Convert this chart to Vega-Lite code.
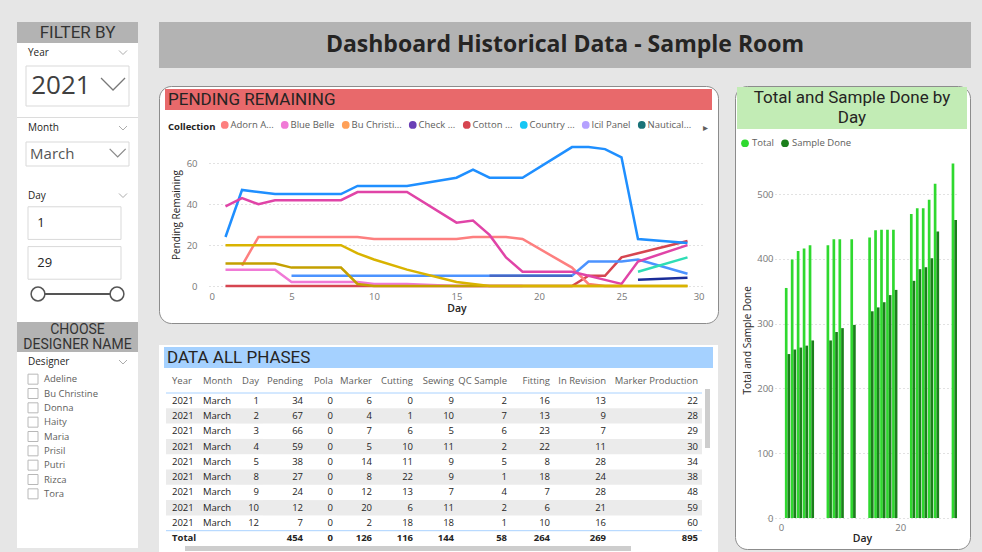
{
"$schema":"https://vega.github.io/schema/vega-lite/v6.json",
"background":"#e6e6e6",
"padding":{"left":17,"top":22,"right":12,"bottom":2},
"config":{"font":"Open Sans","view":{"stroke":null},"title":{"fontSize":9.5,"fontWeight":"normal","color":"#605E5C","offset":-13},"text":{"color":"#252423"}},
"data":{"values":[{}]},
"datasets":{
"lines":[
{"c":"Cotton ...","d":1,"v":0},{"c":"Cotton ...","d":2,"v":0},{"c":"Cotton ...","d":3,"v":0},{"c":"Cotton ...","d":4,"v":0},{"c":"Cotton ...","d":5,"v":0},{"c":"Cotton ...","d":8,"v":0},{"c":"Cotton ...","d":9,"v":0},{"c":"Cotton ...","d":10,"v":0},{"c":"Cotton ...","d":12,"v":0},{"c":"Cotton ...","d":15,"v":0},{"c":"Cotton ...","d":16,"v":0},{"c":"Cotton ...","d":17,"v":0},{"c":"Cotton ...","d":18,"v":0},{"c":"Cotton ...","d":19,"v":0},{"c":"Cotton ...","d":22,"v":0},{"c":"Cotton ...","d":23,"v":5},{"c":"Cotton ...","d":24,"v":5},{"c":"Cotton ...","d":25,"v":14},{"c":"Cotton ...","d":26,"v":16},{"c":"Cotton ...","d":29,"v":22},
{"c":"Blue Belle","d":1,"v":8},{"c":"Blue Belle","d":2,"v":8},{"c":"Blue Belle","d":3,"v":8},{"c":"Blue Belle","d":4,"v":8},{"c":"Blue Belle","d":5,"v":2},{"c":"Blue Belle","d":8,"v":2},{"c":"Blue Belle","d":9,"v":2},{"c":"Blue Belle","d":10,"v":1},{"c":"Blue Belle","d":12,"v":1},{"c":"Blue Belle","d":15,"v":0},{"c":"Blue Belle","d":16,"v":0},{"c":"Blue Belle","d":17,"v":0},{"c":"Blue Belle","d":18,"v":0},{"c":"Blue Belle","d":19,"v":0},
{"c":"Adorn A...","d":2,"v":10},{"c":"Adorn A...","d":3,"v":24},{"c":"Adorn A...","d":4,"v":24},{"c":"Adorn A...","d":5,"v":24},{"c":"Adorn A...","d":8,"v":24},{"c":"Adorn A...","d":9,"v":24},{"c":"Adorn A...","d":10,"v":23},{"c":"Adorn A...","d":12,"v":23},{"c":"Adorn A...","d":15,"v":23},{"c":"Adorn A...","d":16,"v":24},{"c":"Adorn A...","d":17,"v":24},{"c":"Adorn A...","d":18,"v":24},{"c":"Adorn A...","d":19,"v":23},{"c":"Adorn A...","d":22,"v":9},{"c":"Adorn A...","d":23,"v":1},{"c":"Adorn A...","d":24,"v":0},{"c":"Adorn A...","d":25,"v":0},
{"c":"Other 1","d":5,"v":5},{"c":"Other 1","d":8,"v":5},{"c":"Other 1","d":9,"v":5},{"c":"Other 1","d":10,"v":5},{"c":"Other 1","d":12,"v":5},{"c":"Other 1","d":15,"v":5},{"c":"Other 1","d":16,"v":5},{"c":"Other 1","d":17,"v":5},{"c":"Other 1","d":18,"v":5},{"c":"Other 1","d":19,"v":5},{"c":"Other 1","d":22,"v":5},{"c":"Other 1","d":23,"v":12},{"c":"Other 1","d":24,"v":12},{"c":"Other 1","d":25,"v":12},{"c":"Other 1","d":26,"v":13},{"c":"Other 1","d":29,"v":6},
{"c":"Other 2","d":17,"v":5},{"c":"Other 2","d":18,"v":5},{"c":"Other 2","d":19,"v":5},{"c":"Other 2","d":22,"v":5},
{"c":"Other 3","d":1,"v":24},{"c":"Other 3","d":2,"v":47},{"c":"Other 3","d":3,"v":46},{"c":"Other 3","d":4,"v":45},{"c":"Other 3","d":5,"v":45},{"c":"Other 3","d":8,"v":45},{"c":"Other 3","d":9,"v":49},{"c":"Other 3","d":10,"v":49},{"c":"Other 3","d":12,"v":49},{"c":"Other 3","d":15,"v":53},{"c":"Other 3","d":16,"v":57},{"c":"Other 3","d":17,"v":53},{"c":"Other 3","d":18,"v":53},{"c":"Other 3","d":19,"v":53},{"c":"Other 3","d":22,"v":68},{"c":"Other 3","d":23,"v":68},{"c":"Other 3","d":24,"v":67},{"c":"Other 3","d":25,"v":63},{"c":"Other 3","d":26,"v":23},{"c":"Other 3","d":29,"v":21},
{"c":"Other 4","d":1,"v":39},{"c":"Other 4","d":2,"v":43},{"c":"Other 4","d":3,"v":40},{"c":"Other 4","d":4,"v":42},{"c":"Other 4","d":5,"v":42},{"c":"Other 4","d":8,"v":42},{"c":"Other 4","d":9,"v":46},{"c":"Other 4","d":10,"v":46},{"c":"Other 4","d":12,"v":46},{"c":"Other 4","d":15,"v":31},{"c":"Other 4","d":16,"v":32},{"c":"Other 4","d":17,"v":25},{"c":"Other 4","d":18,"v":14},{"c":"Other 4","d":19,"v":7},{"c":"Other 4","d":22,"v":7},{"c":"Other 4","d":23,"v":5},{"c":"Other 4","d":24,"v":3},{"c":"Other 4","d":25,"v":1},{"c":"Other 4","d":26,"v":12},{"c":"Other 4","d":29,"v":20},
{"c":"Other 5","d":26,"v":7},{"c":"Other 5","d":29,"v":14},
{"c":"Other 6","d":26,"v":3},{"c":"Other 6","d":29,"v":4},
{"c":"Other 7","d":1,"v":11},{"c":"Other 7","d":2,"v":11},{"c":"Other 7","d":3,"v":11},{"c":"Other 7","d":4,"v":11},{"c":"Other 7","d":5,"v":9},{"c":"Other 7","d":8,"v":9},{"c":"Other 7","d":9,"v":1},{"c":"Other 7","d":10,"v":0},{"c":"Other 7","d":12,"v":0},{"c":"Other 7","d":15,"v":0},{"c":"Other 7","d":16,"v":0},{"c":"Other 7","d":17,"v":0},{"c":"Other 7","d":18,"v":0},{"c":"Other 7","d":19,"v":0},{"c":"Other 7","d":22,"v":0},{"c":"Other 7","d":23,"v":0},{"c":"Other 7","d":24,"v":0},{"c":"Other 7","d":25,"v":0},{"c":"Other 7","d":26,"v":0},{"c":"Other 7","d":29,"v":0},
{"c":"Other 8","d":1,"v":20},{"c":"Other 8","d":2,"v":20},{"c":"Other 8","d":3,"v":20},{"c":"Other 8","d":4,"v":20},{"c":"Other 8","d":5,"v":20},{"c":"Other 8","d":8,"v":20},{"c":"Other 8","d":9,"v":16},{"c":"Other 8","d":10,"v":13},{"c":"Other 8","d":12,"v":8},{"c":"Other 8","d":15,"v":2},{"c":"Other 8","d":16,"v":1},{"c":"Other 8","d":17,"v":0},{"c":"Other 8","d":18,"v":0},{"c":"Other 8","d":19,"v":0},{"c":"Other 8","d":22,"v":0},{"c":"Other 8","d":23,"v":0},{"c":"Other 8","d":24,"v":0},{"c":"Other 8","d":25,"v":0},{"c":"Other 8","d":26,"v":0},{"c":"Other 8","d":29,"v":0}
],
"bars":[
{"d":1,"s":"Total","v":355},{"d":1,"s":"Sample Done","v":253},{"d":2,"s":"Total","v":399},{"d":2,"s":"Sample Done","v":260},{"d":3,"s":"Total","v":412},{"d":3,"s":"Sample Done","v":263},{"d":4,"s":"Total","v":416},{"d":4,"s":"Sample Done","v":266},{"d":5,"s":"Total","v":421},{"d":5,"s":"Sample Done","v":274},{"d":8,"s":"Total","v":421},{"d":8,"s":"Sample Done","v":274},{"d":9,"s":"Total","v":430},{"d":9,"s":"Sample Done","v":287},{"d":10,"s":"Total","v":430},{"d":10,"s":"Sample Done","v":293},{"d":12,"s":"Total","v":430},{"d":12,"s":"Sample Done","v":298},{"d":15,"s":"Total","v":433},{"d":15,"s":"Sample Done","v":319},{"d":16,"s":"Total","v":444},{"d":16,"s":"Sample Done","v":325},{"d":17,"s":"Total","v":445},{"d":17,"s":"Sample Done","v":333},{"d":18,"s":"Total","v":445},{"d":18,"s":"Sample Done","v":344},{"d":19,"s":"Total","v":445},{"d":19,"s":"Sample Done","v":352},{"d":22,"s":"Total","v":469},{"d":22,"s":"Sample Done","v":366},{"d":23,"s":"Total","v":478},{"d":23,"s":"Sample Done","v":384},{"d":24,"s":"Total","v":478},{"d":24,"s":"Sample Done","v":387},{"d":25,"s":"Total","v":491},{"d":25,"s":"Sample Done","v":401},{"d":26,"s":"Total","v":516},{"d":26,"s":"Sample Done","v":442},{"d":29,"s":"Total","v":547},{"d":29,"s":"Sample Done","v":460}
],
"table":[
{"r":"1","Year":"2021","Month":"March","Day":1,"Pending":34,"Pola":0,"Marker":6,"Cutting":0,"Sewing":9,"QC Sample":2,"Fitting":16,"In Revision":13,"Marker Production":22},
{"r":"2","Year":"2021","Month":"March","Day":2,"Pending":67,"Pola":0,"Marker":4,"Cutting":1,"Sewing":10,"QC Sample":7,"Fitting":13,"In Revision":9,"Marker Production":28},
{"r":"3","Year":"2021","Month":"March","Day":3,"Pending":66,"Pola":0,"Marker":7,"Cutting":6,"Sewing":5,"QC Sample":6,"Fitting":23,"In Revision":7,"Marker Production":29},
{"r":"4","Year":"2021","Month":"March","Day":4,"Pending":59,"Pola":0,"Marker":5,"Cutting":10,"Sewing":11,"QC Sample":2,"Fitting":22,"In Revision":11,"Marker Production":30},
{"r":"5","Year":"2021","Month":"March","Day":5,"Pending":38,"Pola":0,"Marker":14,"Cutting":11,"Sewing":9,"QC Sample":5,"Fitting":8,"In Revision":28,"Marker Production":34},
{"r":"6","Year":"2021","Month":"March","Day":8,"Pending":27,"Pola":0,"Marker":8,"Cutting":22,"Sewing":9,"QC Sample":1,"Fitting":18,"In Revision":24,"Marker Production":38},
{"r":"7","Year":"2021","Month":"March","Day":9,"Pending":24,"Pola":0,"Marker":12,"Cutting":13,"Sewing":7,"QC Sample":4,"Fitting":7,"In Revision":28,"Marker Production":48},
{"r":"8","Year":"2021","Month":"March","Day":10,"Pending":12,"Pola":0,"Marker":20,"Cutting":6,"Sewing":11,"QC Sample":2,"Fitting":6,"In Revision":21,"Marker Production":59},
{"r":"9","Year":"2021","Month":"March","Day":12,"Pending":7,"Pola":0,"Marker":2,"Cutting":18,"Sewing":18,"QC Sample":1,"Fitting":10,"In Revision":16,"Marker Production":60},
{"r":"Total","Year":"Total","Month":"","Day":"","Pending":454,"Pola":0,"Marker":126,"Cutting":116,"Sewing":144,"QC Sample":58,"Fitting":264,"In Revision":269,"Marker Production":895}
],
"designers":[{"name":"Adeline"},{"name":"Bu Christine"},{"name":"Donna"},{"name":"Haity"},{"name":"Maria"},{"name":"Prisil"},{"name":"Putri"},{"name":"Rizca"},{"name":"Tora"}],
"slicer":[{"v":"1"},{"v":"29"}],
"dayrange":[{"d":1},{"d":29}],
"seps":[{"k":"1"},{"k":"Total"}]
},
"resolve":{"scale":{"color":"independent"}},
"hconcat":[
{"vconcat":[
{"width":121,"height":21,"view":{"fill":"#b3b3b3","stroke":null},"mark":{"type":"text","text":"FILTER BY","font":"Roboto","fontSize":17,"color":"#333333"}},
{"width":121,"height":19,"view":{"fill":"white","stroke":null},"encoding":{"x":{"datum":0,"type":"quantitative","scale":{"domain":[0,1],"range":[11,106]},"axis":null}},"layer":[{"mark":{"type":"text","text":"Year","align":"left","fontSize":10}},{"mark":{"type":"point","shape":"M-1,-0.5L0,0.5L1,-0.5","filled":false,"size":64,"color":"#8a8a8a","strokeWidth":1},"encoding":{"x":{"datum":1,"type":"quantitative"}}}]},
{"width":121,"height":48,"view":{"fill":"white","stroke":null},"encoding":{"x":{"datum":0,"type":"quantitative","scale":{"domain":[0,1],"range":[9,112]},"axis":null},"y":{"datum":0,"type":"quantitative","scale":{"domain":[0,1],"range":[44,4]},"axis":null}},"layer":[
 {"mark":{"type":"rect","fill":"white","stroke":"#d9d9d9","strokeWidth":1},"encoding":{"x2":{"datum":1},"y2":{"datum":1}}},
 {"mark":{"type":"text","text":"2021","align":"left","fontSize":26,"color":"#404040"},"encoding":{"x":{"datum":0.05,"type":"quantitative"},"y":{"datum":0.5,"type":"quantitative"}}},
 {"mark":{"type":"point","shape":"M-1,-0.5L0,0.5L1,-0.5","filled":false,"size":576,"color":"#404040","strokeWidth":1.3},"encoding":{"x":{"datum":0.845,"type":"quantitative"},"y":{"datum":0.55,"type":"quantitative"}}}]},
{"width":121,"height":7,"view":{"fill":"white","stroke":null},"mark":{"type":"text","text":""}},
{"width":121,"height":1,"view":{"fill":"#dcdcdc","stroke":null},"mark":{"type":"text","text":""}},
{"width":121,"height":20,"view":{"fill":"white","stroke":null},"encoding":{"x":{"datum":0,"type":"quantitative","scale":{"domain":[0,1],"range":[11,106]},"axis":null}},"layer":[{"mark":{"type":"text","text":"Month","align":"left","fontSize":10}},{"mark":{"type":"point","shape":"M-1,-0.5L0,0.5L1,-0.5","filled":false,"size":64,"color":"#8a8a8a","strokeWidth":1},"encoding":{"x":{"datum":1,"type":"quantitative"}}}]},
{"width":121,"height":32,"view":{"fill":"white","stroke":null},"encoding":{"x":{"datum":0,"type":"quantitative","scale":{"domain":[0,1],"range":[9,112]},"axis":null},"y":{"datum":0,"type":"quantitative","scale":{"domain":[0,1],"range":[28,4]},"axis":null}},"layer":[
 {"mark":{"type":"rect","fill":"white","stroke":"#d9d9d9","strokeWidth":1},"encoding":{"x2":{"datum":1},"y2":{"datum":1}}},
 {"mark":{"type":"text","text":"March","align":"left","fontSize":15,"color":"#555555"},"encoding":{"x":{"datum":0.04,"type":"quantitative"},"y":{"datum":0.5,"type":"quantitative"}}},
 {"mark":{"type":"point","shape":"M-1,-0.5L0,0.5L1,-0.5","filled":false,"size":256,"color":"#555555","strokeWidth":1.2},"encoding":{"x":{"datum":0.89,"type":"quantitative"},"y":{"datum":0.55,"type":"quantitative"}}}]},
{"width":121,"height":15,"view":{"fill":"white","stroke":null},"mark":{"type":"text","text":""}},
{"width":121,"height":21,"view":{"fill":"white","stroke":null},"encoding":{"x":{"datum":0,"type":"quantitative","scale":{"domain":[0,1],"range":[11,106]},"axis":null}},"layer":[{"mark":{"type":"text","text":"Day","align":"left","fontSize":10}},{"mark":{"type":"point","shape":"M-1,-0.5L0,0.5L1,-0.5","filled":false,"size":64,"color":"#8a8a8a","strokeWidth":1},"encoding":{"x":{"datum":1,"type":"quantitative"}}}]},
{"width":121,"height":74,"view":{"fill":"white","stroke":null},"data":{"name":"slicer"},
 "encoding":{"y":{"field":"v","type":"ordinal","sort":null,"scale":{"type":"band","paddingInner":0.18,"paddingOuter":0.02},"axis":null},"x":{"datum":0,"type":"quantitative","scale":{"domain":[0,1],"range":[11,104]},"axis":null}},
 "layer":[{"mark":{"type":"rect","fill":"white","stroke":"#d9d9d9","strokeWidth":1},"encoding":{"x2":{"datum":1}}},
  {"mark":{"type":"text","align":"left","fontSize":13},"encoding":{"x":{"datum":0.1,"type":"quantitative"},"text":{"field":"v","type":"nominal"}}}]},
{"width":121,"height":4,"view":{"fill":"white","stroke":null},"mark":{"type":"text","text":""}},
{"width":121,"height":20,"view":{"fill":"white","stroke":null},"data":{"name":"dayrange"},"encoding":{"x":{"field":"d","type":"quantitative","scale":{"domain":[1,29],"range":[21,100]},"axis":null}},
 "layer":[{"mark":{"type":"line","color":"#555555","strokeWidth":2},"encoding":{}},{"mark":{"type":"point","filled":true,"fill":"white","stroke":"#555555","strokeWidth":1.5,"size":190,"opacity":1},"encoding":{}}]},
{"width":121,"height":18,"view":{"fill":"white","stroke":null},"mark":{"type":"text","text":""}},
{"width":121,"height":30,"view":{"fill":"#b3b3b3","stroke":null},"mark":{"type":"text","text":["CHOOSE","DESIGNER NAME"],"font":"Roboto","fontSize":14,"lineHeight":15,"dy":-7,"color":"#333333"}},
{"width":121,"height":20,"view":{"fill":"white","stroke":null},"encoding":{"x":{"datum":0,"type":"quantitative","scale":{"domain":[0,1],"range":[11,106]},"axis":null}},"layer":[{"mark":{"type":"text","text":"Designer","align":"left","fontSize":10}},{"mark":{"type":"point","shape":"M-1,-0.5L0,0.5L1,-0.5","filled":false,"size":64,"color":"#8a8a8a","strokeWidth":1},"encoding":{"x":{"datum":1,"type":"quantitative"}}}]},
{"width":121,"height":129,"view":{"fill":"white","stroke":null},"data":{"name":"designers"},
 "encoding":{"y":{"field":"name","type":"nominal","sort":null,"axis":null},"x":{"datum":0,"type":"quantitative","scale":{"domain":[0,1],"range":[16,27]},"axis":null}},
 "layer":[{"mark":{"type":"point","shape":"square","size":100,"filled":true,"fill":"white","stroke":"#b8b8b8","strokeWidth":1,"opacity":1}},
  {"mark":{"type":"text","align":"left","fontSize":9.5,"color":"#605E5C"},"encoding":{"x":{"datum":1,"type":"quantitative"},"text":{"field":"name","type":"nominal"}}}]},
{"width":121,"height":47,"view":{"fill":"white","stroke":null},"mark":{"type":"text","text":""}}
],"spacing":0,"bounds":"flush"},
{"vconcat":[
{"width":812,"height":46,"view":{"fill":"#b3b3b3","stroke":null},"mark":{"type":"text","text":"Dashboard Historical Data - Sample Room","fontSize":23,"fontWeight":"bold","color":"#252423"}},
{"hconcat":[
 {"vconcat":[
  {"width":559,"height":237,"view":{"fill":"white","stroke":"#8c8c8c","strokeWidth":1,"cornerRadius":12},
   "resolve":{"scale":{"x":"independent","y":"independent"}},
   "layer":[
    {"encoding":{"x":{"datum":0,"type":"quantitative","scale":{"domain":[0,1],"range":[6,553]},"axis":null},"y":{"datum":0,"type":"quantitative","scale":{"domain":[0,1],"range":[24,3]},"axis":null}},
     "layer":[{"mark":{"type":"rect","color":"#E8696B"},"encoding":{"x2":{"datum":1},"y2":{"datum":1}}},
      {"mark":{"type":"text","text":"PENDING REMAINING","align":"left","dx":3,"font":"Roboto","fontSize":17,"color":"#252423"},"encoding":{"y":{"datum":0.5,"type":"quantitative"}}}]},
    {"data":{"name":"lines"},"mark":{"type":"line","strokeWidth":2.5},
     "encoding":{
      "x":{"field":"d","type":"quantitative","scale":{"domain":[0,30],"range":[50,545],"nice":false,"zero":false},"axis":{"orient":"bottom","offset":-37,"values":[0,5,10,15,20,25,30],"domain":false,"ticks":false,"grid":false,"labelPadding":5,"labelColor":"#777777","labelFontSize":9.5,"title":"Day","titleFontSize":10.5,"titleFontWeight":600,"titleColor":"#252423","titlePadding":3}},
      "y":{"field":"v","type":"quantitative","scale":{"domain":[0,70],"range":[200,57],"nice":false},"axis":{"orient":"left","offset":-50,"values":[0,20,40,60],"domain":false,"ticks":false,"labelPadding":12,"labelColor":"#777777","labelFontSize":9.5,"grid":true,"gridDash":[1,3],"gridColor":"#c4c4c4","title":"Pending Remaining","titleFontSize":10,"titleFontWeight":"normal","titleColor":"#252423","titlePadding":5}},
      "color":{"field":"c","type":"nominal","scale":{"domain":["Adorn A...","Blue Belle","Bu Christi...","Check ...","Cotton ...","Country ...","Icil Panel","Nautical...","▸","Other 1","Other 2","Other 3","Other 4","Other 5","Other 6","Other 7","Other 8"],"range":["#FD7F7F","#F07AD6","#FFA058","#6A3FB5","#D64550","#15C6F4","#B5A1FF","#197278","#333333","#4C93FF","#4668C5","#1F8FFF","#E044A7","#2EDDB5","#1A2D99","#C4A000","#D9B300"]},
       "legend":{"orient":"none","legendX":9,"legendY":34,"direction":"horizontal","values":["Adorn A...","Blue Belle","Bu Christi...","Check ...","Cotton ...","Country ...","Icil Panel","Nautical...","▸"],"title":"Collection","titleOrient":"left","titleFontSize":9.5,"titleFontWeight":"bold","titleColor":"#252423","titlePadding":4,"labelFontSize":9.5,"labelColor":"#605E5C","labelOffset":1,"columnPadding":0,"labelLimit":200,"symbolType":"circle","symbolSize":14,"symbolStrokeWidth":4,"encode":{"symbols":{"update":{"opacity":{"signal":"datum.value === '▸' ? 0 : 1"}}}}}}
     }}
   ]},
  {"vconcat":[
   {"width":559,"height":27,"view":{"fill":"white","stroke":null},
    "encoding":{"x":{"datum":0,"type":"quantitative","scale":{"domain":[0,1],"range":[5,554]},"axis":null},"y":{"datum":0,"type":"quantitative","scale":{"domain":[0,1],"range":[23,2]},"axis":null}},
    "layer":[{"mark":{"type":"rect","color":"#A5D1FF"},"encoding":{"x2":{"datum":1},"y2":{"datum":1}}},
     {"mark":{"type":"text","text":"DATA ALL PHASES","align":"left","dx":3,"font":"Roboto","fontSize":17,"color":"#252423"},"encoding":{"y":{"datum":0.5,"type":"quantitative"}}}]},
   {"hconcat":[
    {"width":7,"height":174,"view":{"fill":"white","stroke":null},"mark":{"type":"text","text":""}},
    {"width":33,"height":174,"view":{"fill":"white","stroke":null},"data":{"name":"table"},"title":{"text":"Year","anchor":"start","frame":"group","dx":6},
     "encoding":{"y":{"field":"r","type":"ordinal","scale":{"type":"band","domain":["1","2","3","4","5","6","7","8","9","Total"],"range":[21,174],"paddingInner":0,"paddingOuter":0},"axis":null}},
     "layer":[{"transform":[{"filter":"datum.r !== 'Total' && datum.r % 2 === 0"}],"mark":{"type":"rect","color":"#ebebeb"}},
      {"data":{"name":"seps"},"mark":{"type":"rule","color":"#a9d2ff","strokeWidth":1},"encoding":{"y":{"field":"k","type":"ordinal","bandPosition":0}}},
      {"transform":[{"filter":"datum.r !== 'Total'"}],"mark":{"type":"text","align":"left","fontSize":9.5},"encoding":{"x":{"datum":0,"type":"quantitative","scale":{"domain":[0,1],"padding":6},"axis":null},"text":{"field":"Year","type":"nominal"}}},
      {"transform":[{"filter":"datum.r === 'Total'"}],"mark":{"type":"text","align":"left","fontSize":9.5,"fontWeight":"bold"},"encoding":{"x":{"datum":0,"type":"quantitative","scale":{"domain":[0,1],"padding":6},"axis":null},"text":{"field":"Year","type":"nominal"}}}]},
    {"width":37,"height":174,"view":{"fill":"white","stroke":null},"data":{"name":"table"},"title":{"text":"Month","anchor":"start","frame":"group","dx":4},
     "encoding":{"y":{"field":"r","type":"ordinal","scale":{"type":"band","domain":["1","2","3","4","5","6","7","8","9","Total"],"range":[21,174],"paddingInner":0,"paddingOuter":0},"axis":null}},
     "layer":[{"transform":[{"filter":"datum.r !== 'Total' && datum.r % 2 === 0"}],"mark":{"type":"rect","color":"#ebebeb"}},
      {"data":{"name":"seps"},"mark":{"type":"rule","color":"#a9d2ff","strokeWidth":1},"encoding":{"y":{"field":"k","type":"ordinal","bandPosition":0}}},
      {"transform":[{"filter":"datum.r !== 'Total'"}],"mark":{"type":"text","align":"left","fontSize":9.5},"encoding":{"x":{"datum":0,"type":"quantitative","scale":{"domain":[0,1],"padding":4},"axis":null},"text":{"field":"Month","type":"nominal"}}}]},
    {"width":27,"height":174,"view":{"fill":"white","stroke":null},"data":{"name":"table"},"title":{"text":"Day","anchor":"end","frame":"group","dx":-4},
     "encoding":{"y":{"field":"r","type":"ordinal","scale":{"type":"band","domain":["1","2","3","4","5","6","7","8","9","Total"],"range":[21,174],"paddingInner":0,"paddingOuter":0},"axis":null}},
     "layer":[{"transform":[{"filter":"datum.r !== 'Total' && datum.r % 2 === 0"}],"mark":{"type":"rect","color":"#ebebeb"}},
      {"data":{"name":"seps"},"mark":{"type":"rule","color":"#a9d2ff","strokeWidth":1},"encoding":{"y":{"field":"k","type":"ordinal","bandPosition":0}}},
      {"transform":[{"filter":"datum.r !== 'Total'"}],"mark":{"type":"text","align":"right","fontSize":9.5},"encoding":{"x":{"datum":1,"type":"quantitative","scale":{"domain":[0,1],"padding":4},"axis":null},"text":{"field":"Day","type":"nominal"}}}]},
    {"width":44,"height":174,"view":{"fill":"white","stroke":null},"data":{"name":"table"},"title":{"text":"Pending","anchor":"end","frame":"group","dx":-4},
     "encoding":{"y":{"field":"r","type":"ordinal","scale":{"type":"band","domain":["1","2","3","4","5","6","7","8","9","Total"],"range":[21,174],"paddingInner":0,"paddingOuter":0},"axis":null}},
     "layer":[{"transform":[{"filter":"datum.r !== 'Total' && datum.r % 2 === 0"}],"mark":{"type":"rect","color":"#ebebeb"}},
      {"data":{"name":"seps"},"mark":{"type":"rule","color":"#a9d2ff","strokeWidth":1},"encoding":{"y":{"field":"k","type":"ordinal","bandPosition":0}}},
      {"transform":[{"filter":"datum.r !== 'Total'"}],"mark":{"type":"text","align":"right","fontSize":9.5},"encoding":{"x":{"datum":1,"type":"quantitative","scale":{"domain":[0,1],"padding":4},"axis":null},"text":{"field":"Pending","type":"nominal"}}},
      {"transform":[{"filter":"datum.r === 'Total'"}],"mark":{"type":"text","align":"right","fontSize":9.5,"fontWeight":"bold"},"encoding":{"x":{"datum":1,"type":"quantitative","scale":{"domain":[0,1],"padding":4},"axis":null},"text":{"field":"Pending","type":"nominal"}}}]},
    {"width":30,"height":174,"view":{"fill":"white","stroke":null},"data":{"name":"table"},"title":{"text":"Pola","anchor":"end","frame":"group","dx":-4},
     "encoding":{"y":{"field":"r","type":"ordinal","scale":{"type":"band","domain":["1","2","3","4","5","6","7","8","9","Total"],"range":[21,174],"paddingInner":0,"paddingOuter":0},"axis":null}},
     "layer":[{"transform":[{"filter":"datum.r !== 'Total' && datum.r % 2 === 0"}],"mark":{"type":"rect","color":"#ebebeb"}},
      {"data":{"name":"seps"},"mark":{"type":"rule","color":"#a9d2ff","strokeWidth":1},"encoding":{"y":{"field":"k","type":"ordinal","bandPosition":0}}},
      {"transform":[{"filter":"datum.r !== 'Total'"}],"mark":{"type":"text","align":"right","fontSize":9.5},"encoding":{"x":{"datum":1,"type":"quantitative","scale":{"domain":[0,1],"padding":4},"axis":null},"text":{"field":"Pola","type":"nominal"}}},
      {"transform":[{"filter":"datum.r === 'Total'"}],"mark":{"type":"text","align":"right","fontSize":9.5,"fontWeight":"bold"},"encoding":{"x":{"datum":1,"type":"quantitative","scale":{"domain":[0,1],"padding":4},"axis":null},"text":{"field":"Pola","type":"nominal"}}}]},
    {"width":38,"height":174,"view":{"fill":"white","stroke":null},"data":{"name":"table"},"title":{"text":"Marker","anchor":"end","frame":"group","dx":-3},
     "encoding":{"y":{"field":"r","type":"ordinal","scale":{"type":"band","domain":["1","2","3","4","5","6","7","8","9","Total"],"range":[21,174],"paddingInner":0,"paddingOuter":0},"axis":null}},
     "layer":[{"transform":[{"filter":"datum.r !== 'Total' && datum.r % 2 === 0"}],"mark":{"type":"rect","color":"#ebebeb"}},
      {"data":{"name":"seps"},"mark":{"type":"rule","color":"#a9d2ff","strokeWidth":1},"encoding":{"y":{"field":"k","type":"ordinal","bandPosition":0}}},
      {"transform":[{"filter":"datum.r !== 'Total'"}],"mark":{"type":"text","align":"right","fontSize":9.5},"encoding":{"x":{"datum":1,"type":"quantitative","scale":{"domain":[0,1],"padding":3},"axis":null},"text":{"field":"Marker","type":"nominal"}}},
      {"transform":[{"filter":"datum.r === 'Total'"}],"mark":{"type":"text","align":"right","fontSize":9.5,"fontWeight":"bold"},"encoding":{"x":{"datum":1,"type":"quantitative","scale":{"domain":[0,1],"padding":3},"axis":null},"text":{"field":"Marker","type":"nominal"}}}]},
    {"width":42,"height":174,"view":{"fill":"white","stroke":null},"data":{"name":"table"},"title":{"text":"Cutting","anchor":"end","frame":"group","dx":-4},
     "encoding":{"y":{"field":"r","type":"ordinal","scale":{"type":"band","domain":["1","2","3","4","5","6","7","8","9","Total"],"range":[21,174],"paddingInner":0,"paddingOuter":0},"axis":null}},
     "layer":[{"transform":[{"filter":"datum.r !== 'Total' && datum.r % 2 === 0"}],"mark":{"type":"rect","color":"#ebebeb"}},
      {"data":{"name":"seps"},"mark":{"type":"rule","color":"#a9d2ff","strokeWidth":1},"encoding":{"y":{"field":"k","type":"ordinal","bandPosition":0}}},
      {"transform":[{"filter":"datum.r !== 'Total'"}],"mark":{"type":"text","align":"right","fontSize":9.5},"encoding":{"x":{"datum":1,"type":"quantitative","scale":{"domain":[0,1],"padding":4},"axis":null},"text":{"field":"Cutting","type":"nominal"}}},
      {"transform":[{"filter":"datum.r === 'Total'"}],"mark":{"type":"text","align":"right","fontSize":9.5,"fontWeight":"bold"},"encoding":{"x":{"datum":1,"type":"quantitative","scale":{"domain":[0,1],"padding":4},"axis":null},"text":{"field":"Cutting","type":"nominal"}}}]},
    {"width":42,"height":174,"view":{"fill":"white","stroke":null},"data":{"name":"table"},"title":{"text":"Sewing","anchor":"end","frame":"group","dx":-5},
     "encoding":{"y":{"field":"r","type":"ordinal","scale":{"type":"band","domain":["1","2","3","4","5","6","7","8","9","Total"],"range":[21,174],"paddingInner":0,"paddingOuter":0},"axis":null}},
     "layer":[{"transform":[{"filter":"datum.r !== 'Total' && datum.r % 2 === 0"}],"mark":{"type":"rect","color":"#ebebeb"}},
      {"data":{"name":"seps"},"mark":{"type":"rule","color":"#a9d2ff","strokeWidth":1},"encoding":{"y":{"field":"k","type":"ordinal","bandPosition":0}}},
      {"transform":[{"filter":"datum.r !== 'Total'"}],"mark":{"type":"text","align":"right","fontSize":9.5},"encoding":{"x":{"datum":1,"type":"quantitative","scale":{"domain":[0,1],"padding":5},"axis":null},"text":{"field":"Sewing","type":"nominal"}}},
      {"transform":[{"filter":"datum.r === 'Total'"}],"mark":{"type":"text","align":"right","fontSize":9.5,"fontWeight":"bold"},"encoding":{"x":{"datum":1,"type":"quantitative","scale":{"domain":[0,1],"padding":5},"axis":null},"text":{"field":"Sewing","type":"nominal"}}}]},
    {"width":52,"height":174,"view":{"fill":"white","stroke":null},"data":{"name":"table"},"title":{"text":"QC Sample","anchor":"end","frame":"group","dx":-4},
     "encoding":{"y":{"field":"r","type":"ordinal","scale":{"type":"band","domain":["1","2","3","4","5","6","7","8","9","Total"],"range":[21,174],"paddingInner":0,"paddingOuter":0},"axis":null}},
     "layer":[{"transform":[{"filter":"datum.r !== 'Total' && datum.r % 2 === 0"}],"mark":{"type":"rect","color":"#ebebeb"}},
      {"data":{"name":"seps"},"mark":{"type":"rule","color":"#a9d2ff","strokeWidth":1},"encoding":{"y":{"field":"k","type":"ordinal","bandPosition":0}}},
      {"transform":[{"filter":"datum.r !== 'Total'"}],"mark":{"type":"text","align":"right","fontSize":9.5},"encoding":{"x":{"datum":1,"type":"quantitative","scale":{"domain":[0,1],"padding":4},"axis":null},"text":{"field":"QC Sample","type":"nominal"}}},
      {"transform":[{"filter":"datum.r === 'Total'"}],"mark":{"type":"text","align":"right","fontSize":9.5,"fontWeight":"bold"},"encoding":{"x":{"datum":1,"type":"quantitative","scale":{"domain":[0,1],"padding":4},"axis":null},"text":{"field":"QC Sample","type":"nominal"}}}]},
    {"width":43,"height":174,"view":{"fill":"white","stroke":null},"data":{"name":"table"},"title":{"text":"Fitting","anchor":"end","frame":"group","dx":-4},
     "encoding":{"y":{"field":"r","type":"ordinal","scale":{"type":"band","domain":["1","2","3","4","5","6","7","8","9","Total"],"range":[21,174],"paddingInner":0,"paddingOuter":0},"axis":null}},
     "layer":[{"transform":[{"filter":"datum.r !== 'Total' && datum.r % 2 === 0"}],"mark":{"type":"rect","color":"#ebebeb"}},
      {"data":{"name":"seps"},"mark":{"type":"rule","color":"#a9d2ff","strokeWidth":1},"encoding":{"y":{"field":"k","type":"ordinal","bandPosition":0}}},
      {"transform":[{"filter":"datum.r !== 'Total'"}],"mark":{"type":"text","align":"right","fontSize":9.5},"encoding":{"x":{"datum":1,"type":"quantitative","scale":{"domain":[0,1],"padding":4},"axis":null},"text":{"field":"Fitting","type":"nominal"}}},
      {"transform":[{"filter":"datum.r === 'Total'"}],"mark":{"type":"text","align":"right","fontSize":9.5,"fontWeight":"bold"},"encoding":{"x":{"datum":1,"type":"quantitative","scale":{"domain":[0,1],"padding":4},"axis":null},"text":{"field":"Fitting","type":"nominal"}}}]},
    {"width":57,"height":174,"view":{"fill":"white","stroke":null},"data":{"name":"table"},"title":{"text":"In Revision","anchor":"end","frame":"group","dx":-5},
     "encoding":{"y":{"field":"r","type":"ordinal","scale":{"type":"band","domain":["1","2","3","4","5","6","7","8","9","Total"],"range":[21,174],"paddingInner":0,"paddingOuter":0},"axis":null}},
     "layer":[{"transform":[{"filter":"datum.r !== 'Total' && datum.r % 2 === 0"}],"mark":{"type":"rect","color":"#ebebeb"}},
      {"data":{"name":"seps"},"mark":{"type":"rule","color":"#a9d2ff","strokeWidth":1},"encoding":{"y":{"field":"k","type":"ordinal","bandPosition":0}}},
      {"transform":[{"filter":"datum.r !== 'Total'"}],"mark":{"type":"text","align":"right","fontSize":9.5},"encoding":{"x":{"datum":1,"type":"quantitative","scale":{"domain":[0,1],"padding":5},"axis":null},"text":{"field":"In Revision","type":"nominal"}}},
      {"transform":[{"filter":"datum.r === 'Total'"}],"mark":{"type":"text","align":"right","fontSize":9.5,"fontWeight":"bold"},"encoding":{"x":{"datum":1,"type":"quantitative","scale":{"domain":[0,1],"padding":5},"axis":null},"text":{"field":"In Revision","type":"nominal"}}}]},
    {"width":91,"height":174,"view":{"fill":"white","stroke":null},"data":{"name":"table"},"title":{"text":"Marker Production","anchor":"end","frame":"group","dx":-4},
     "encoding":{"y":{"field":"r","type":"ordinal","scale":{"type":"band","domain":["1","2","3","4","5","6","7","8","9","Total"],"range":[21,174],"paddingInner":0,"paddingOuter":0},"axis":null}},
     "layer":[{"transform":[{"filter":"datum.r !== 'Total' && datum.r % 2 === 0"}],"mark":{"type":"rect","color":"#ebebeb"}},
      {"data":{"name":"seps"},"mark":{"type":"rule","color":"#a9d2ff","strokeWidth":1},"encoding":{"y":{"field":"k","type":"ordinal","bandPosition":0}}},
      {"transform":[{"filter":"datum.r !== 'Total'"}],"mark":{"type":"text","align":"right","fontSize":9.5},"encoding":{"x":{"datum":1,"type":"quantitative","scale":{"domain":[0,1],"padding":4},"axis":null},"text":{"field":"Marker Production","type":"nominal"}}},
      {"transform":[{"filter":"datum.r === 'Total'"}],"mark":{"type":"text","align":"right","fontSize":9.5,"fontWeight":"bold"},"encoding":{"x":{"datum":1,"type":"quantitative","scale":{"domain":[0,1],"padding":4},"axis":null},"text":{"field":"Marker Production","type":"nominal"}}}]},
    {"width":16,"height":174,"view":{"fill":"white","stroke":null},
     "mark":{"type":"rect","color":"#cdcdcd"},"encoding":{"x":{"datum":0,"type":"quantitative","scale":{"domain":[0,1],"range":[3,8]},"axis":null},"x2":{"datum":1},"y":{"datum":0,"type":"quantitative","scale":{"domain":[0,1],"range":[76,17]},"axis":null},"y2":{"datum":1}}}
   ],"spacing":0,"bounds":"flush"},
   {"width":559,"height":6,"view":{"fill":"white","stroke":null},"mark":{"type":"rect","color":"#cdcdcd"},
    "encoding":{"x":{"datum":0,"type":"quantitative","scale":{"domain":[0,1],"range":[26,472]},"axis":null},"x2":{"datum":1},"y":{"datum":0,"type":"quantitative","scale":{"domain":[0,1],"range":[5,0]},"axis":null},"y2":{"datum":1}}}
  ],"spacing":0}
 ],"spacing":21,"resolve":{"scale":{"color":"independent"}}},
 {"width":235,"height":463,"view":{"fill":"white","stroke":"#8c8c8c","strokeWidth":1,"cornerRadius":12},
  "resolve":{"scale":{"x":"independent","y":"independent"}},
  "layer":[
   {"encoding":{"x":{"datum":0,"type":"quantitative","scale":{"domain":[0,1],"range":[2,232]},"axis":null},"y":{"datum":0,"type":"quantitative","scale":{"domain":[0,1],"range":[43,1]},"axis":null}},
    "layer":[{"mark":{"type":"rect","color":"#C2ECB5"},"encoding":{"x2":{"datum":1},"y2":{"datum":1}}},
     {"mark":{"type":"text","text":["Total and Sample Done by","Day"],"align":"center","font":"Roboto","fontSize":17,"lineHeight":20,"dy":-10,"color":"#252423"},"encoding":{"x":{"datum":0.5,"type":"quantitative"},"y":{"datum":0.5,"type":"quantitative"}}}]},
   {"data":{"name":"bars"},"mark":{"type":"bar"},
    "encoding":{
     "x":{"field":"d","type":"ordinal","scale":{"domain":[-2,-1,0,1,2,3,4,5,6,7,8,9,10,11,12,13,14,15,16,17,18,19,20,21,22,23,24,25,26,27,28,29],"range":[32,222],"paddingInner":0.1,"paddingOuter":0},"axis":{"orient":"bottom","offset":-31,"values":[0,20],"labelAngle":0,"domain":false,"ticks":false,"grid":false,"labelPadding":4,"labelColor":"#777777","labelFontSize":9.5,"title":"Day","titleFontSize":10.5,"titleFontWeight":600,"titleColor":"#252423","titlePadding":2}},
     "xOffset":{"field":"s","type":"nominal","scale":{"domain":["Total","Sample Done"],"paddingInner":0}},
     "y":{"field":"v","type":"quantitative","scale":{"domain":[0,550],"range":[432,75.6],"nice":false},"axis":{"orient":"left","offset":-44,"values":[0,100,200,300,400,500],"domain":false,"ticks":false,"labelPadding":6,"labelColor":"#777777","labelFontSize":9.5,"grid":true,"gridDash":[1,3],"gridColor":"#c4c4c4","title":"Total and Sample Done","titleFontSize":10,"titleFontWeight":"normal","titleColor":"#252423","titlePadding":4}},
     "color":{"field":"s","type":"nominal","scale":{"domain":["Total","Sample Done"],"range":["#2FD92F","#1B7F1B"]},"legend":{"orient":"none","legendX":5,"legendY":52,"direction":"horizontal","title":null,"symbolType":"circle","symbolSize":60,"labelFontSize":9.5,"labelColor":"#605E5C","labelOffset":2,"columnPadding":5}}
    }}
  ]}
],"spacing":15,"resolve":{"scale":{"color":"independent"}}}
],"spacing":17,"resolve":{"scale":{"color":"independent"}}}
],
"spacing":20
}
